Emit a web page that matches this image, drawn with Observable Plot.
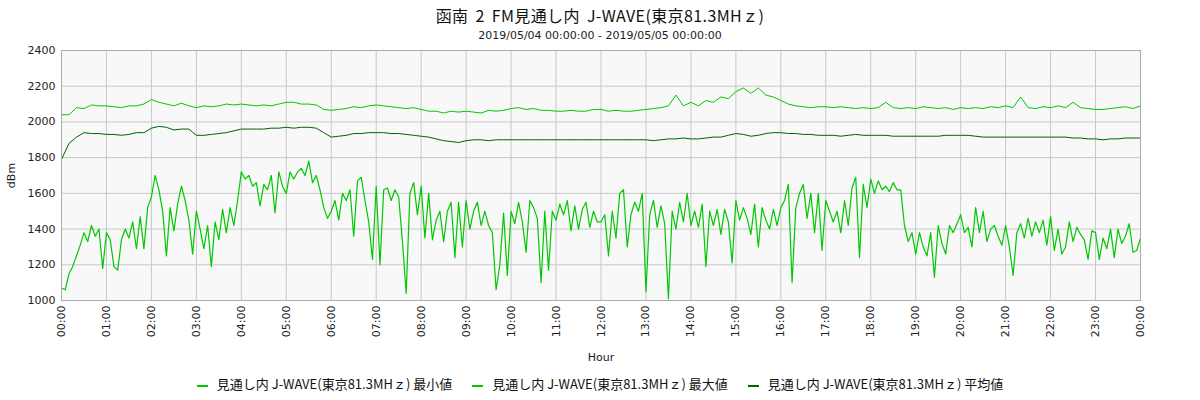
<!DOCTYPE html>
<html>
<head>
<meta charset="utf-8">
<script src="https://cdn.jsdelivr.net/npm/d3@7"></script>
<script src="https://cdn.jsdelivr.net/npm/@observablehq/plot@0.6"></script>
<style>
  html, body { margin: 0; padding: 0; background: #fff; width: 1200px; height: 400px; overflow: hidden; }
  #title { position: absolute; top: 3px; left: 0; width: 1200px; text-align: center;
           font-family: "Noto Sans CJK JP", sans-serif; font-size: 16px; color: #111; letter-spacing: 0.4px; word-spacing: 3px; }
  #subtitle { position: absolute; top: 29px; left: 0; width: 1200px; text-align: center;
              font-family: "DejaVu Sans", sans-serif; font-size: 11px; color: #222; }
  #chart { position: absolute; top: 45px; left: 0; }
  #legend { position: absolute; top: 374px; left: 0; width: 1200px; display: flex; justify-content: center;
            font-family: "Noto Sans CJK JP", sans-serif; font-size: 13px; color: #111; }
  .item { display: flex; align-items: center; margin: 0 10px; }
  .sw { display: inline-block; width: 11px; height: 2px; margin-right: 9px; margin-top: 4px; }
</style>
</head>
<body>
<div id="title"></div>
<div id="subtitle"></div>
<div id="chart"></div>
<div id="legend"></div>
<script>
const titleText = "函南 2 FM見通し内 J-WAVE(東京81.3MHｚ)";
const subtitleText = "2019/05/04 00:00:00 - 2019/05/05 00:00:00";
const seriesNames = ["見通し内 J-WAVE(東京81.3MHｚ) 最小値", "見通し内 J-WAVE(東京81.3MHｚ) 最大値", "見通し内 J-WAVE(東京81.3MHｚ) 平均値"];
const seriesColors = ["#00c800", "#00c800", "#006400"];

const hourTicks = d3.range(0, 25);
const tickLabels = ["00:00","01:00","02:00","03:00","04:00","05:00","06:00","07:00","08:00","09:00","10:00","11:00",
  "12:00","13:00","14:00","15:00","16:00","17:00","18:00","19:00","20:00","21:00","22:00","23:00","00:00"];
const yTicks = [1000, 1200, 1400, 1600, 1800, 2000, 2200, 2400];

// minimum, one value every 5 minutes (00:00 .. 24:00)
const minValues = [
  1070,1060,1150,1190,1250,1310,1380,1330,1420,1360,1400,1180,
  1380,1340,1190,1170,1340,1400,1350,1440,1290,1470,1290,1520,
  1580,1700,1620,1500,1250,1520,1390,1540,1640,1560,1450,1260,
  1500,1400,1290,1420,1190,1440,1340,1510,1380,1520,1420,1560,
  1720,1680,1700,1640,1660,1530,1650,1620,1700,1490,1720,1640,
  1600,1720,1680,1720,1740,1700,1780,1660,1700,1620,1520,1460,
  1500,1560,1450,1600,1560,1620,1360,1670,1690,1560,1440,1230,
  1640,1200,1620,1630,1560,1620,1580,1330,1040,1600,1660,1480,
  1640,1350,1600,1340,1450,1500,1330,1500,1550,1240,1550,1300,
  1560,1400,1500,1550,1420,1500,1420,1380,1060,1200,1490,1140,
  1500,1430,1550,1440,1270,1560,1520,1460,1100,1500,1170,1500,
  1450,1540,1480,1560,1390,1530,1400,1510,1550,1410,1500,1440,
  1440,1480,1250,1500,1350,1600,1620,1300,1480,1550,1500,1600,
  1050,1480,1560,1410,1530,1430,1010,1500,1400,1550,1440,1600,
  1420,1500,1410,1540,1190,1500,1420,1510,1370,1510,1440,1210,
  1560,1450,1520,1460,1370,1540,1300,1520,1450,1400,1510,1420,
  1520,1560,1650,1100,1520,1600,1650,1460,1600,1380,1600,1280,
  1560,1500,1440,1500,1380,1560,1420,1630,1690,1240,1650,1520,
  1680,1600,1670,1620,1640,1610,1660,1620,1620,1420,1330,1380,
  1260,1380,1300,1250,1380,1130,1420,1320,1260,1420,1380,1430,
  1480,1380,1410,1300,1520,1380,1500,1330,1400,1420,1360,1310,
  1420,1300,1140,1380,1430,1350,1460,1360,1440,1380,1450,1310,
  1470,1280,1400,1260,1300,1440,1330,1410,1370,1340,1230,1390,
  1380,1230,1350,1290,1400,1240,1400,1320,1360,1430,1270,1280,
  1350
];

// maximum, one value every 10 minutes
const maxValues = [
  2040,2040,2080,2075,2095,2090,
  2090,2085,2080,2090,2090,2100,
  2125,2110,2100,2090,2105,2090,
  2080,2090,2085,2090,2100,2095,
  2100,2095,2090,2095,2090,2100,
  2110,2110,2100,2100,2095,2070,
  2065,2070,2075,2085,2080,2090,
  2095,2090,2085,2080,2075,2080,
  2070,2060,2060,2050,2060,2055,
  2060,2055,2050,2065,2060,2065,
  2075,2080,2070,2075,2065,2065,
  2060,2060,2065,2060,2060,2070,
  2070,2060,2065,2060,2060,2065,
  2070,2075,2080,2090,2150,2090,
  2110,2090,2120,2110,2140,2130,
  2170,2190,2160,2190,2150,2140,
  2120,2100,2090,2085,2080,2085,
  2085,2080,2085,2080,2075,2080,
  2075,2080,2110,2080,2075,2080,
  2075,2085,2080,2075,2080,2070,
  2080,2075,2080,2075,2085,2080,
  2090,2080,2140,2080,2075,2085,
  2080,2090,2080,2110,2080,2075,
  2070,2070,2075,2080,2085,2075,
  2090
];

// average, one value every 10 minutes
const avgValues = [
  1790,1880,1915,1940,1935,1935,
  1930,1930,1925,1930,1940,1940,
  1965,1975,1970,1955,1960,1960,
  1925,1925,1930,1935,1940,1950,
  1960,1960,1960,1960,1965,1965,
  1970,1965,1970,1970,1965,1940,
  1915,1920,1925,1935,1935,1940,
  1940,1940,1935,1935,1930,1925,
  1920,1915,1905,1895,1890,1885,
  1895,1900,1900,1895,1900,1900,
  1900,1900,1900,1900,1900,1900,
  1900,1900,1900,1900,1900,1900,
  1900,1900,1900,1900,1900,1900,
  1900,1895,1900,1905,1905,1910,
  1905,1905,1910,1915,1915,1925,
  1935,1930,1920,1925,1935,1940,
  1940,1935,1935,1930,1930,1925,
  1925,1925,1920,1925,1930,1925,
  1925,1925,1925,1920,1920,1920,
  1920,1920,1920,1920,1925,1925,
  1925,1925,1920,1915,1915,1915,
  1915,1915,1915,1915,1915,1915,
  1915,1915,1915,1910,1910,1905,
  1905,1900,1905,1905,1910,1910,
  1910
];

const minData = minValues.map((v, i) => ({t: i * 5 / 60, v}));
const maxData = maxValues.map((v, i) => ({t: i * 10 / 60, v}));
const avgData = avgValues.map((v, i) => ({t: i * 10 / 60, v}));

document.getElementById("title").textContent = titleText;
document.getElementById("subtitle").textContent = subtitleText;

const fmt = d => tickLabels[hourTicks.indexOf(d)];

const chart = Plot.plot({
  width: 1200,
  height: 320,
  marginTop: 5,
  marginBottom: 65,
  marginLeft: 61,
  marginRight: 60,
  style: {fontFamily: "DejaVu Sans, sans-serif", fontSize: "11px", color: "#222", background: "transparent"},
  x: {domain: [0, 24]},
  y: {domain: [1000, 2400]},
  marks: [
    Plot.frame({fill: "#f8f8f8", stroke: null}),
    Plot.gridX(hourTicks, {stroke: "#c8c8c8", strokeOpacity: 1}),
    Plot.gridY(yTicks, {stroke: "#c8c8c8", strokeOpacity: 1}),
    Plot.axisX({ticks: hourTicks, tickFormat: fmt, tickRotate: -90, tickSize: 0, tickPadding: 5,
                label: "Hour", labelAnchor: "center", labelOffset: 60, labelArrow: "none"}),
    Plot.axisY({ticks: yTicks, tickFormat: d => String(d), tickSize: 0, tickPadding: 6,
                label: "dBm", labelAnchor: "center", labelOffset: 54, labelArrow: "none"}),
    Plot.line(maxData, {x: "t", y: "v", stroke: seriesColors[1], strokeWidth: 1}),
    Plot.line(avgData, {x: "t", y: "v", stroke: seriesColors[2], strokeWidth: 1}),
    Plot.line(minData, {x: "t", y: "v", stroke: seriesColors[0], strokeWidth: 1.2}),
    Plot.frame({stroke: "#aaa"})
  ]
});
document.getElementById("chart").appendChild(chart);

const legend = document.getElementById("legend");
seriesNames.forEach((name, i) => {
  const item = document.createElement("div");
  item.className = "item";
  const sw = document.createElement("span");
  sw.className = "sw";
  sw.style.background = seriesColors[i];
  const lab = document.createElement("span");
  lab.textContent = name;
  item.appendChild(sw);
  item.appendChild(lab);
  legend.appendChild(item);
});
</script>
</body>
</html>
